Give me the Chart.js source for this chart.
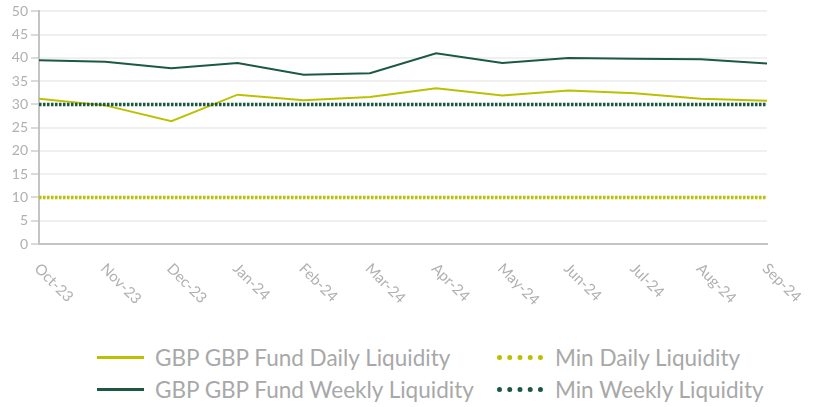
<!DOCTYPE html>
<html>
<head>
<meta charset="utf-8">
<script src="https://cdn.jsdelivr.net/npm/chart.js@4/dist/chart.umd.min.js"></script>
<style>
  body { margin: 0; background: #fff; font-family: Lato, "Open Sans", sans-serif; }
  #wrap { position: relative; width: 818px; height: 330px; }
  #legend { position: absolute; left: 0; top: 340px; width: 818px; height: 67px; }
  .item { position: absolute; display: flex; align-items: center; color: #a8a8a8; font-size: 22.5px; white-space: nowrap; }
  .swatch { width: 47px; height: 3px; margin-right: 11px; }
  .dots { width: 46px; height: 0; border-top: 5px dotted; margin-right: 12px; }
</style>
</head>
<body>
<div id="wrap"><canvas id="chart" width="818" height="330"></canvas></div>
<div id="legend"></div>
<script>
const MONTHS = ["Oct-23", "Nov-23", "Dec-23", "Jan-24", "Feb-24", "Mar-24", "Apr-24", "May-24", "Jun-24", "Jul-24", "Aug-24", "Sep-24"];
const DAILY = [31.2, 29.8, 26.4, 32.1, 30.9, 31.6, 33.5, 31.9, 33.0, 32.4, 31.2, 30.8];
const WEEKLY = [39.5, 39.2, 37.8, 38.9, 36.4, 36.7, 41.0, 38.9, 40.0, 39.8, 39.7, 38.8];
const MIN_DAILY = [10, 10, 10, 10, 10, 10, 10, 10, 10, 10, 10, 10];
const MIN_WEEKLY = [30, 30, 30, 30, 30, 30, 30, 30, 30, 30, 30, 30];

const YELLOW = "#bdc000";
const GREEN = "#1b5a40";

const LEGEND = [
  { label: "GBP GBP Fund Daily Liquidity", color: YELLOW, dotted: false, left: 97, top: 4 },
  { label: "Min Daily Liquidity", color: YELLOW, dotted: true, left: 497, top: 4 },
  { label: "GBP GBP Fund Weekly Liquidity", color: GREEN, dotted: false, left: 97, top: 36 },
  { label: "Min Weekly Liquidity", color: GREEN, dotted: true, left: 497, top: 36 },
];

// x labels run down to the right, so draw them ourselves off the x scale
const slantedLabels = {
  id: "slantedLabels",
  afterDraw(chart) {
    const ctx = chart.ctx;
    const xs = chart.scales.x;
    ctx.save();
    ctx.fillStyle = "#b0b0b0";
    ctx.font = "15px Lato, 'Open Sans', sans-serif";
    ctx.textAlign = "left";
    ctx.textBaseline = "middle";
    MONTHS.forEach((m, i) => {
      const x = xs.getPixelForTick(i);
      ctx.save();
      ctx.translate(x - 2, xs.top + 22);
      ctx.rotate(Math.PI / 4);
      ctx.fillText(m, 0, 0);
      ctx.restore();
    });
    ctx.restore();
  },
};

new Chart(document.getElementById("chart").getContext("2d"), {
  type: "line",
  data: {
    labels: MONTHS,
    datasets: [
      { label: "Min Daily Liquidity", data: MIN_DAILY, borderColor: YELLOW, borderWidth: 3.5, borderDash: [2.5, 1.5], pointRadius: 0 },
      { label: "Min Weekly Liquidity", data: MIN_WEEKLY, borderColor: GREEN, borderWidth: 3.5, borderDash: [2.5, 1.5], pointRadius: 0 },
      { label: "GBP GBP Fund Daily Liquidity", data: DAILY, borderColor: YELLOW, borderWidth: 2, pointRadius: 0, tension: 0 },
      { label: "GBP GBP Fund Weekly Liquidity", data: WEEKLY, borderColor: GREEN, borderWidth: 2, pointRadius: 0, tension: 0 },
    ],
  },
  options: {
    responsive: false,
    animation: false,
    layout: { padding: { top: 10, right: 51, left: 0, bottom: 0 } },
    plugins: { legend: { display: false }, tooltip: { enabled: false } },
    scales: {
      x: {
        offset: false,
        grid: { display: false },
        border: { color: "#c4c4c4", width: 2 },
        ticks: { display: false },
        afterFit: (s) => { s.height = 86; },
      },
      y: {
        min: 0,
        max: 50,
        ticks: { stepSize: 5, color: "#b0b0b0", font: { size: 14, family: "Lato, 'Open Sans', sans-serif" }, padding: 3 },
        grid: { color: "#f0f0f0", lineWidth: 2, tickLength: 8, tickColor: "#dadada" },
        border: { color: "#c4c4c4", width: 2 },
        afterFit: (s) => { s.width = 39; },
      },
    },
  },
  plugins: [slantedLabels],
});

const legendEl = document.getElementById("legend");
LEGEND.forEach((it) => {
  const div = document.createElement("div");
  div.className = "item";
  div.style.left = it.left + "px";
  div.style.top = it.top + "px";
  const sw = document.createElement("span");
  if (it.dotted) {
    sw.className = "dots";
    sw.style.borderTopColor = it.color;
  } else {
    sw.className = "swatch";
    sw.style.background = it.color;
  }
  const txt = document.createElement("span");
  txt.textContent = it.label;
  div.appendChild(sw);
  div.appendChild(txt);
  legendEl.appendChild(div);
});
</script>
</body>
</html>
